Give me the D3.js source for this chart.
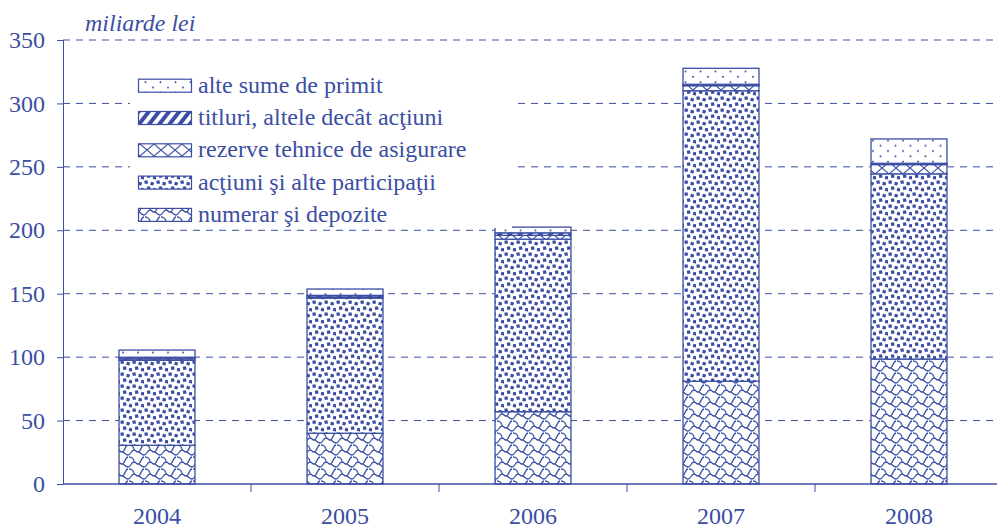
<!DOCTYPE html>
<html>
<head>
<meta charset="utf-8">
<script src="https://cdn.jsdelivr.net/npm/d3@7"></script>
<style>
  body { margin: 0; background: #fff; }
  text { font-family: "Liberation Serif", "Times New Roman", serif; fill: #3b4ea3; }
</style>
</head>
<body>
<svg id="chart" width="997" height="528"></svg>
<script>
// values, miliarde lei
var years = ["2004", "2005", "2006", "2007", "2008"];
var numerar = [30.5, 40, 57, 81, 98.5];
var actiuni = [67, 106.5, 136, 229, 146];
var rezerve = [1.2, 1, 3, 4, 7.3];
var titluri = [1.2, 1.2, 2, 1.1, 1];
var alte = [5.7, 5, 4.5, 12.6, 19.2];
var yTicks = [0, 50, 100, 150, 200, 250, 300, 350];

var blue = "#3b4ea3";
var series = [
  {key: "numerar", name: "numerar şi depozite", values: numerar, pat: "p-scale"},
  {key: "actiuni", name: "acţiuni şi alte participaţii", values: actiuni, pat: "p-sq"},
  {key: "rezerve", name: "rezerve tehnice de asigurare", values: rezerve, pat: "p-cross"},
  {key: "titluri", name: "titluri, altele decât acţiuni", values: titluri, pat: "p-stripe"},
  {key: "alte", name: "alte sume de primit", values: alte, pat: "p-dots"}
];

var svg = d3.select("#chart");
var defs = svg.append("defs");

// dots
var p = defs.append("pattern").attr("id", "p-dots").attr("patternUnits", "userSpaceOnUse")
  .attr("width", 15).attr("height", 10.6);
p.append("circle").attr("cx", 3).attr("cy", 2.6).attr("r", 1).attr("fill", blue);
p.append("circle").attr("cx", 10.5).attr("cy", 7.9).attr("r", 1).attr("fill", blue);

// stripes
p = defs.append("pattern").attr("id", "p-stripe").attr("patternUnits", "userSpaceOnUse")
  .attr("width", 8).attr("height", 10).attr("patternTransform", "rotate(38)");
p.append("rect").attr("x", 0).attr("y", 0).attr("width", 4).attr("height", 10).attr("fill", blue);

// cross hatch
p = defs.append("pattern").attr("id", "p-cross").attr("patternUnits", "userSpaceOnUse")
  .attr("width", 14).attr("height", 12);
p.append("path").attr("d", "M0,0L14,12M14,0L0,12").attr("stroke", blue).attr("stroke-width", 1.1).attr("fill", "none");

// small squares
p = defs.append("pattern").attr("id", "p-sq").attr("patternUnits", "userSpaceOnUse")
  .attr("width", 12).attr("height", 12);
[[0.5, 0.5], [6.5, 2], [3, 6.5], [9, 8]].forEach(function(c, i) {
  p.append("rect").attr("x", c[0]).attr("y", c[1]).attr("width", 3.3).attr("height", 3.3)
    .attr("fill", blue).attr("transform", "rotate(" + (i % 2 ? 12 : -10) + "," + (c[0] + 1.6) + "," + (c[1] + 1.6) + ")");
});

// scale-like pattern
p = defs.append("pattern").attr("id", "p-scale").attr("patternUnits", "userSpaceOnUse")
  .attr("width", 16).attr("height", 12);
p.append("path")
  .attr("d", "M0,11 C3,11 3,6 6,6 C8,6 8,8 10,8 M10,8 C13,8 13,1 16,1 M6,6 C6,3 4,1 1,1 M16,11 C13,11 13,8 10,8")
  .attr("stroke", blue).attr("stroke-width", 1.3).attr("fill", "none");

var x = d3.scaleBand().domain(years).range([63, 1003]).paddingInner(0.596).paddingOuter(0.298);
var y = d3.scaleLinear().domain([0, 350]).range([484, 40]);

// gridlines
svg.append("g").selectAll("line").data(yTicks.filter(function(d) { return d > 0; })).enter().append("line")
  .attr("x1", 63).attr("x2", 997)
  .attr("y1", function(d) { return y(d); }).attr("y2", function(d) { return y(d); })
  .attr("stroke", blue).attr("stroke-width", 1).attr("stroke-dasharray", "7,6");

// y axis
var yAxis = d3.axisLeft(y).tickValues(yTicks).tickSize(6).tickPadding(12);
var gy = svg.append("g").attr("transform", "translate(63,0)").call(yAxis);
gy.selectAll("path,line").attr("stroke", blue);
gy.selectAll("text").style("font-size", "24px").attr("fill", blue);

// stacked bars
var stack = d3.stack().keys(series.map(function(s) { return s.key; }));
var rows = years.map(function(yr, i) {
  var r = {year: yr};
  series.forEach(function(s) { r[s.key] = s.values[i]; });
  return r;
});
var layers = stack(rows);
layers.forEach(function(layer, li) {
  svg.append("g").selectAll("rect").data(layer).enter().append("rect")
    .attr("x", function(d) { return x(d.data.year); })
    .attr("width", x.bandwidth())
    .attr("y", function(d) { return y(d[1]); })
    .attr("height", function(d) { return y(d[0]) - y(d[1]); })
    .attr("fill", "#fff");
  svg.append("g").selectAll("rect").data(layer).enter().append("rect")
    .attr("x", function(d) { return x(d.data.year); })
    .attr("width", x.bandwidth())
    .attr("y", function(d) { return y(d[1]); })
    .attr("height", function(d) { return y(d[0]) - y(d[1]); })
    .attr("fill", "url(#" + series[li].pat + ")")
    .attr("stroke", blue).attr("stroke-width", 1.3);
});

// x axis
var gx = svg.append("g").attr("transform", "translate(0,484)");
gx.append("line").attr("x1", 63).attr("x2", 997).attr("stroke", blue).attr("stroke-width", 1.5);
gx.selectAll("line.tk").data(d3.range(1, 5)).enter().append("line").attr("class", "tk")
  .attr("x1", function(i) { return x(years[0]) - x.step() * 0.298 + i * x.step(); })
  .attr("x2", function(i) { return x(years[0]) - x.step() * 0.298 + i * x.step(); })
  .attr("y1", 0).attr("y2", 8).attr("stroke", blue);
gx.selectAll("text").data(years).enter().append("text")
  .attr("x", function(d) { return x(d) + x.bandwidth() / 2; })
  .attr("y", 40).attr("text-anchor", "middle").style("font-size", "24px")
  .text(function(d) { return d; });

// unit label
svg.append("text").attr("x", 85).attr("y", 31).style("font-size", "24px").style("font-style", "italic")
  .text("miliarde lei");

// legend
var lg = svg.append("g");
lg.append("rect").attr("x", 130).attr("y", 70).attr("width", 382).attr("height", 158).attr("fill", "#fff");
series.slice().reverse().forEach(function(s, i) {
  var base = 92.7 + i * 32.3;
  lg.append("rect").attr("x", 138.5).attr("y", base - 13.5).attr("width", 53).attr("height", 13)
    .attr("fill", "url(#" + s.pat + ")").attr("stroke", blue).attr("stroke-width", 1.2);
  lg.append("text").attr("x", 198).attr("y", base).style("font-size", "24px").text(s.name);
});
</script>
</body>
</html>
